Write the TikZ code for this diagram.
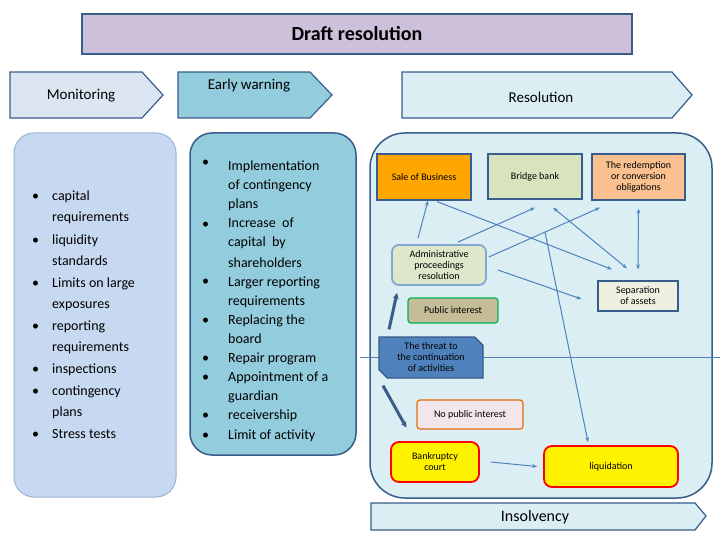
\documentclass[tikz,border=0pt]{standalone}
\usepackage{fontspec}
\setmainfont{Carlito}
\usetikzlibrary{shapes.misc,arrows.meta}
\definecolor{lav}{HTML}{CCC0DA}
\definecolor{mon}{HTML}{DCE6F2}
\definecolor{monbox}{HTML}{C6D9F1}
\definecolor{ew}{HTML}{93CDDD}
\definecolor{res}{HTML}{DBEEF4}
\definecolor{edge}{HTML}{385D8A}
\definecolor{ab}{HTML}{4F81BD}
\begin{document}
\begin{tikzpicture}[x=1pt,y=-1pt,
 box/.style={draw=edge,line width=1.2pt,minimum width=#1,inner sep=1pt,align=center,font=\fontsize{10}{11}\selectfont},
 ar/.style={draw=ab,line width=1pt,-{Stealth[length=5pt]}},
 tk/.style={draw=edge,line width=3pt,-{Stealth[length=6pt,width=6pt]}},
 li/.style={anchor=base west,inner sep=0pt,font=\fontsize{14}{14}\selectfont},
 bu/.style={anchor=base west,inner sep=0pt,font=\fontsize{14}{14}\selectfont}]
\useasboundingbox (0,0) rectangle (720,540);
\fill[white] (0,0) rectangle (720,540);
% title
\node[draw=edge,line width=1.2pt,fill=lav,minimum width=550,minimum height=40,font=\bfseries\fontsize{20}{22}\selectfont] (draft) at (357,34) {Draft resolution};
% header arrows
\draw[edge,line width=1.2pt,fill=mon] (10,72)--(142,72)--(163,95)--(142,118)--(10,118)--cycle;
\node[font=\fontsize{15}{16}\selectfont] (mon) at (81,96) {Monitoring};
\draw[edge,line width=1.2pt,fill=ew] (178,72)--(310,72)--(332,95)--(310,118)--(178,118)--cycle;
\node[font=\fontsize{15}{16}\selectfont] (ewt) at (249,86) {Early warning};
\draw[edge,line width=1.2pt,fill=res] (402,72)--(672,72)--(692,95)--(672,118)--(402,118)--cycle;
\node[font=\fontsize{15}{16}\selectfont] (rest) at (541,97) {Resolution};
% big boxes
\draw[draw=monbox!70!edge,line width=1pt,fill=monbox,rounded corners=20] (14,133) rectangle (176,497);
\draw[draw=edge,line width=1.5pt,fill=ew,rounded corners=22] (190,133) rectangle (356,455);
\draw[draw=edge,line width=1.5pt,fill=res,rounded corners=35] (370,133) rectangle (712,498);
\draw[ab,line width=0.8pt] (360,357)--(720,357);
% insolvency arrow
\draw[edge,line width=1.2pt,fill=res] (371,503)--(695,503)--(706,516)--(695,530)--(371,530)--cycle;
\node[font=\fontsize{16}{17}\selectfont] (ins) at (535,517) {Insolvency};
% monitoring list
\foreach \y/\t in {196/capital,217/requirements,239/liquidity,260/standards,282/Limits on large,303/exposures,325/reporting,346/requirements,368/inspections,390/contingency,411/plans,433/Stress tests}
 \node[li] at (52,\y+5) {\t};
\foreach \y in {196,239,282,325,368,390,433} \node[bu] at (32,\y+5) {•};
% early warning list
\foreach \y/\t in {166/Implementation,185/of contingency,204/plans,223/Increase\ \ of,242/capital\ \ by,262/shareholders,281/Larger reporting,300/requirements,319/Replacing the,338/board,357/Repair program,376/Appointment of a,395/guardian,414/receivership,434/Limit of activity}
 \node[li] at (228,\y+5) {\t};
\foreach \y in {162,224,280,319,357,376,414,434} \node[bu] at (202,\y+5) {•};
% resolution nodes
\node[box=94,fill=orange!70!yellow,minimum height=46] (sale) at (424,177) {Sale of Business};
\node[box=94,fill={rgb,255:red,215;green,228;blue,189},minimum height=45] (bridge) at (535,176.5) {Bridge bank};
\node[box=93,fill={rgb,255:red,250;green,192;blue,144},minimum height=46] (redem) at (638.5,177) {The redemption\\or conversion\\obligations};
\node[box=94,draw=ab!70,line width=1.8pt,rounded corners=7,fill={rgb,255:red,221;green,232;blue,203},minimum height=40] (admin) at (439,265) {Administrative\\proceedings\\resolution};
\node[box=80,fill={rgb,255:red,238;green,241;blue,224},minimum height=30] (sep) at (638,296) {Separation\\of assets};
\node[box=90,draw={rgb,255:red,0;green,176;blue,80},rounded corners=3,fill={rgb,255:red,196;green,189;blue,151},minimum height=25] (pub) at (453,310.5) {Public interest};
\node[box=104,chamfered rectangle,chamfered rectangle corners={north east,south west},chamfered rectangle xsep=5pt,draw=ab!70!black,fill=ab,minimum height=41] (threat) at (431,357.5) {The threat to\\the continuation\\of activities};
\node[box=106,draw={rgb,255:red,228;green,108;blue,10},rounded corners=3,fill={rgb,255:red,242;green,230;blue,235},minimum height=29] (nopub) at (470,414.5) {No public interest};
\node[box=88,draw=red,line width=1.8pt,rounded corners=8,fill=yellow,minimum height=40] (bank) at (435,462) {Bankruptcy\\court};
\node[box=134,draw=red,line width=1.8pt,rounded corners=8,fill=yellow,minimum height=41] (liq) at (611,466.5) {liquidation};
% arrows
\draw[ar] ([xshift=-21,yshift=6]admin.north) -- ([xshift=4]sale.south);
\draw[ar] ([xshift=19,yshift=2]admin.north) -- ([yshift=-8]bridge.south);
\draw[ar] ([xshift=2,yshift=8]admin.east) -- ([xshift=-38.5,yshift=-7]redem.south);
\draw[ar] ([xshift=11,yshift=-5]admin.east) -- ([xshift=-16,yshift=-3]sep.west);
\draw[ar] ([xshift=13,yshift=-1]sale.south) -- ([xshift=-26,yshift=11]sep.north);
\draw[ar,{Stealth[length=5pt]}-{Stealth[length=5pt]}] ([xshift=18,yshift=-8]bridge.south) -- ([xshift=-11,yshift=12]sep.north);
\draw[ar,{Stealth[length=5pt]}-{Stealth[length=5pt]}] ([yshift=-8]redem.south) -- ([yshift=11]sep.north);
\coordinate (c1) at (545,232);
\draw[ar] (c1) -- ([xshift=-23,yshift=3]liq.north);
\draw[tk] ([xshift=-42,yshift=7]threat.north) -- ([xshift=-42,yshift=-7]admin.south);
\draw[tk] ([xshift=-48,yshift=-7]threat.south) -- ([xshift=-10,yshift=2]nopub.south west);
\draw[ar] ([xshift=11]bank.east) -- ([xshift=-6]liq.west);
\end{tikzpicture}
\end{document}
